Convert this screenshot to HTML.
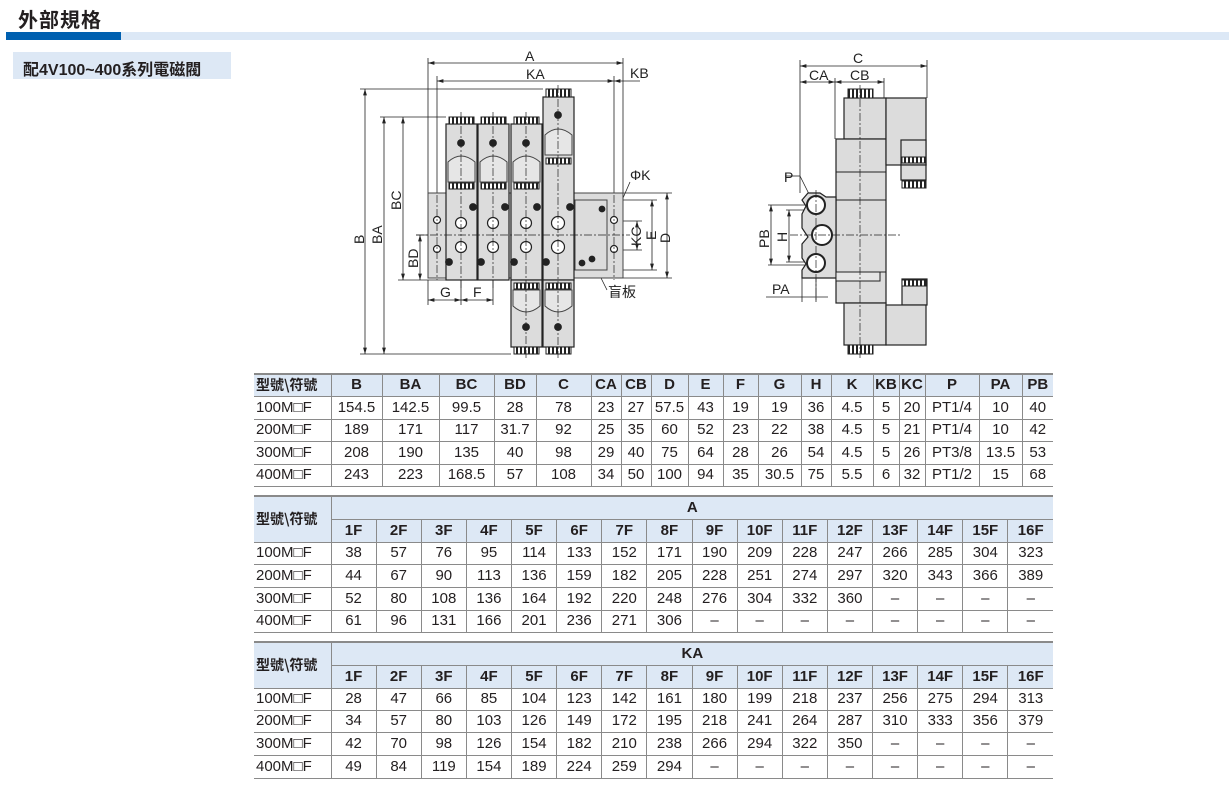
<!DOCTYPE html>
<html><head><meta charset="utf-8">
<style>
*{margin:0;padding:0;box-sizing:border-box}
body{width:1229px;height:790px;background:#fff;position:relative;overflow:hidden;font-family:"Liberation Sans","Noto Sans CJK TC",sans-serif;color:#231f20}
.t1{position:absolute;left:18px;top:4px;font-size:20px;font-weight:bold;font-family:"Noto Sans CJK TC",sans-serif;letter-spacing:1px}
.bar1{position:absolute;left:6px;top:32px;width:115px;height:8px;background:#0060b0}
.bar2{position:absolute;left:121px;top:32px;width:1108px;height:8px;background:#dce8f6}
.sub{position:absolute;left:13px;top:52px;width:218px;height:27px;background:#dde8f5;font-size:16px;font-weight:bold;padding:4px 0 0 10px;font-family:"Liberation Sans","Noto Sans CJK TC",sans-serif}
table{position:absolute;left:254px;border-collapse:collapse;table-layout:fixed;font-size:15px}
td{text-align:center;border-left:1px solid #8a8a8a;border-bottom:1px solid #8a8a8a;padding:0;white-space:nowrap;overflow:hidden;line-height:20px}
td.l{border-left:none;text-align:left;padding-left:2px}
tr.h td{background:#dde8f5;font-weight:bold}
tr.top td{border-top:2px solid #8a8a8a}
.cj{font-family:"Noto Sans CJK TC",sans-serif;font-weight:bold;font-size:14px}
</style></head><body>
<div class="t1">外部規格</div>
<div class="bar1"></div><div class="bar2"></div>
<div class="sub">配4V100~400系列電磁閥</div>

<svg width="1229" height="370" style="position:absolute;left:0;top:0" xmlns="http://www.w3.org/2000/svg" font-family="Liberation Sans, Noto Sans CJK TC, sans-serif" font-size="14">
<defs>
<marker id="ar" viewBox="0 0 10 6" refX="10" refY="3" markerWidth="8" markerHeight="5" orient="auto-start-reverse"><path d="M0,0L10,3L0,6z" fill="#222"/></marker>
<pattern id="cap" width="4" height="8" patternUnits="userSpaceOnUse"><rect width="4" height="8" fill="#fff"/><rect width="2" height="8" fill="#222"/></pattern>
</defs>
<g stroke="#222" stroke-width="0.8" fill="none">
<line x1="428" y1="58" x2="428" y2="193"/><line x1="623" y1="58" x2="623" y2="193"/>
<line x1="437" y1="76" x2="437" y2="193"/><line x1="614" y1="76" x2="614" y2="193"/>
<line x1="360" y1="89" x2="543" y2="89"/><line x1="360" y1="354" x2="511" y2="354"/>
<line x1="380" y1="117" x2="446" y2="117"/><line x1="398" y1="280" x2="446" y2="280"/>
<line x1="416" y1="235" x2="446" y2="235"/>
<line x1="623" y1="193" x2="672" y2="193"/><line x1="623" y1="278" x2="672" y2="278"/>
<line x1="607" y1="200" x2="657" y2="200"/><line x1="607" y1="270" x2="657" y2="270"/>
<line x1="620" y1="221" x2="642" y2="221"/><line x1="620" y1="250" x2="642" y2="250"/>
<line x1="428" y1="280" x2="428" y2="305"/><line x1="461" y1="280" x2="461" y2="305"/><line x1="493" y1="280" x2="493" y2="305"/>
</g>
<g stroke="#222" stroke-width="0.8" marker-start="url(#ar)" marker-end="url(#ar)">
<line x1="428" y1="63" x2="623" y2="63"/>
<line x1="437" y1="81" x2="614" y2="81"/>
<line x1="365" y1="89" x2="365" y2="354"/>
<line x1="384" y1="117" x2="384" y2="354"/>
<line x1="403" y1="117" x2="403" y2="280"/>
<line x1="420" y1="235" x2="420" y2="280"/>
<line x1="428" y1="300" x2="461" y2="300"/>
<line x1="461" y1="300" x2="493" y2="300"/>
<line x1="667" y1="193" x2="667" y2="278"/>
<line x1="652" y1="200" x2="652" y2="270"/>
<line x1="637" y1="221" x2="637" y2="250"/>
</g>
<line x1="640" y1="81" x2="614" y2="81" stroke="#222" stroke-width="0.8" marker-end="url(#ar)"/>
<g fill="#222">
<text x="525" y="61">A</text><text x="526" y="79">KA</text><text x="630" y="78">KB</text>
<text transform="translate(364,244) rotate(-90)">B</text>
<text transform="translate(382,244) rotate(-90)">BA</text>
<text transform="translate(401,210) rotate(-90)">BC</text>
<text transform="translate(418,268) rotate(-90)">BD</text>
<text x="440" y="297">G</text><text x="473" y="297">F</text>
<text transform="translate(670,243) rotate(-90)">D</text>
<text transform="translate(656,240) rotate(-90)">E</text>
<text transform="translate(641,246) rotate(-90)">KC</text>
<text x="630" y="180">ΦK</text>
<text x="608" y="297" font-family="Noto Sans CJK TC,sans-serif">盲板</text>
</g>
<line x1="630" y1="182" x2="616" y2="214" stroke="#222" stroke-width="0.8"/>
<line x1="593" y1="262" x2="607" y2="290" stroke="#222" stroke-width="0.8"/>
<rect x="428" y="193" width="195" height="85" fill="#dcdcdc" stroke="#444" stroke-width="1"/>
<rect x="575" y="200" width="32" height="70" fill="#dcdcdc" stroke="#444"/>
<g stroke="#222" stroke-width="1.2" fill="#dcdcdc">
<rect x="446" y="124" width="31" height="156"/><rect x="478" y="124" width="31" height="156"/><rect x="511" y="124" width="31" height="156"/>
<rect x="543" y="97" width="31" height="183"/>
<rect x="511" y="280" width="31" height="67"/><rect x="543" y="280" width="31" height="67"/>
</g>
<g fill="url(#cap)" stroke="#222">
<rect x="449" y="117" width="25" height="7"/><rect x="481" y="117" width="25" height="7"/><rect x="514" y="117" width="25" height="7"/><rect x="546" y="89" width="25" height="8"/>
<rect x="449" y="183" width="25" height="6"/><rect x="481" y="183" width="25" height="6"/><rect x="514" y="183" width="25" height="6"/><rect x="546" y="158" width="25" height="6"/>
<rect x="514" y="283" width="25" height="6"/><rect x="546" y="283" width="25" height="6"/>
<rect x="514" y="347" width="25" height="7"/><rect x="546" y="347" width="25" height="7"/>
</g>
<g fill="#e6e6e6" stroke="#444" stroke-width="1">
<path d="M448,162 Q461,150 475,162 V182 H448Z"/><path d="M480,162 Q493,150 507,162 V182 H480Z"/><path d="M513,162 Q526,150 540,162 V182 H513Z"/><path d="M545,135 Q558,123 572,135 V155 H545Z"/>
<path d="M513,306 Q526,318 540,306 V290 H513Z"/><path d="M545,306 Q558,318 572,306 V290 H545Z"/>
</g>
<g fill="#222" stroke="#222" stroke-width="0.8">
<circle cx="461" cy="143" r="3.5"/><circle cx="493" cy="143" r="3.5"/><circle cx="526" cy="143" r="3.5"/><circle cx="558" cy="115" r="3.5"/>
<circle cx="526" cy="327" r="3.5"/><circle cx="558" cy="327" r="3.5"/>
<circle cx="473" cy="207" r="3.5"/><circle cx="505" cy="207" r="3.5"/><circle cx="537" cy="207" r="3.5"/><circle cx="570" cy="207" r="3.5"/>
<circle cx="449" cy="262" r="3.5"/><circle cx="481" cy="262" r="3.5"/><circle cx="514" cy="262" r="3.5"/><circle cx="546" cy="262" r="3.5"/>
<circle cx="582" cy="263" r="3"/><circle cx="592" cy="259" r="3"/><circle cx="602" cy="209" r="3"/>
</g>
<g fill="#fff" stroke="#222" stroke-width="1.2">
<circle cx="437" cy="220" r="3.5"/><circle cx="437" cy="249" r="3.5"/><circle cx="614" cy="220" r="3.5"/><circle cx="614" cy="249" r="3.5"/>
<circle cx="461" cy="223" r="5.5"/><circle cx="493" cy="223" r="5.5"/><circle cx="526" cy="223" r="5.5"/><circle cx="558" cy="223" r="6.5"/>
<circle cx="461" cy="247" r="5.5"/><circle cx="493" cy="247" r="5.5"/><circle cx="526" cy="247" r="5.5"/><circle cx="558" cy="247" r="6.5"/>
</g>
<g stroke="#222" stroke-width="0.7" stroke-dasharray="8,2,2,2" fill="none">
<line x1="416" y1="235" x2="630" y2="235"/>
<line x1="461" y1="112" x2="461" y2="290"/><line x1="493" y1="112" x2="493" y2="290"/><line x1="526" y1="112" x2="526" y2="358"/><line x1="558" y1="85" x2="558" y2="358"/>
<line x1="437" y1="195" x2="437" y2="280"/><line x1="614" y1="195" x2="614" y2="280"/>
</g>

<g stroke="#222" stroke-width="0.8" fill="none">
<line x1="800" y1="60" x2="800" y2="193"/><line x1="927" y1="60" x2="927" y2="98"/>
<line x1="835" y1="78" x2="835" y2="139"/><line x1="884" y1="78" x2="884" y2="98"/>
<line x1="768" y1="205" x2="816" y2="205"/><line x1="768" y1="265" x2="816" y2="265"/>
<line x1="786" y1="210" x2="822" y2="210"/><line x1="786" y1="262" x2="822" y2="262"/>
<line x1="802" y1="278" x2="802" y2="302"/><line x1="816" y1="278" x2="816" y2="302"/>
<line x1="766" y1="297" x2="828" y2="297"/>
<line x1="785" y1="176" x2="800" y2="176"/><line x1="800" y1="176" x2="810" y2="196"/>
</g>
<g stroke="#222" stroke-width="0.8" marker-start="url(#ar)" marker-end="url(#ar)">
<line x1="800" y1="66" x2="927" y2="66"/>
<line x1="800" y1="82" x2="835" y2="82"/>
<line x1="835" y1="82" x2="884" y2="82"/>
<line x1="771" y1="205" x2="771" y2="265"/>
<line x1="789" y1="210" x2="789" y2="262"/>
</g>
<g fill="#222"><text x="853" y="63">C</text><text x="809" y="80">CA</text><text x="850" y="80">CB</text>
<text x="784" y="182">P</text><text x="772" y="294">PA</text>
<text transform="translate(769,248) rotate(-90)">PB</text>
<text transform="translate(787,242) rotate(-90)">H</text></g>
<g stroke="#222" stroke-width="1.2" fill="#dcdcdc">
<rect x="844" y="98" width="42" height="41"/>
<rect x="836" y="139" width="50" height="164"/>
<rect x="844" y="303" width="42" height="42"/>
<rect x="886" y="98" width="40" height="67"/>
<rect x="901" y="140" width="25" height="25"/>
<rect x="901" y="165" width="25" height="15"/>
<rect x="902" y="279" width="25" height="26"/>
<rect x="886" y="305" width="40" height="40"/>
<path d="M802,200 L808,193 L820,193 L826,197 L836,197 V278 L802,278 V270 L806,264 L802,258 V244 L808,237 L802,228 V214 L806,206 Z"/>
</g>
<g fill="url(#cap)" stroke="#222">
<rect x="848" y="89" width="25" height="9"/><rect x="848" y="345" width="25" height="9"/>
<rect x="902" y="157" width="24" height="6"/><rect x="902" y="181" width="24" height="7"/><rect x="902" y="280" width="24" height="6"/>
</g>
<g stroke="#222" stroke-width="1" fill="none">
<line x1="836" y1="172" x2="886" y2="172"/><line x1="836" y1="200" x2="886" y2="200"/><line x1="836" y1="272" x2="886" y2="272"/>
<rect x="836" y="272" width="44" height="9" fill="#e6e6e6"/>
</g>
<g fill="#fff" stroke="#222" stroke-width="2">
<circle cx="816" cy="205" r="9"/><circle cx="822" cy="235" r="10"/><circle cx="816" cy="263" r="9"/>
</g>
<g stroke="#222" stroke-width="0.7" stroke-dasharray="8,2,2,2" fill="none">
<line x1="860" y1="85" x2="860" y2="358"/><line x1="790" y1="235" x2="900" y2="235"/>
<line x1="816" y1="190" x2="816" y2="300"/>
</g>
</svg>

<table style="top:373px;width:799px">
<colgroup><col style="width:77px"><col style="width:51px"><col style="width:57px"><col style="width:55px"><col style="width:42px"><col style="width:55px"><col style="width:30px"><col style="width:30px"><col style="width:37px"><col style="width:35px"><col style="width:35px"><col style="width:43px"><col style="width:30px"><col style="width:42px"><col style="width:26px"><col style="width:26px"><col style="width:54px"><col style="width:43px"><col style="width:31px"></colgroup>
<tr class="h top" style="height:22px"><td class="l cj">型號\符號</td><td>B</td><td>BA</td><td>BC</td><td>BD</td><td>C</td><td>CA</td><td>CB</td><td>D</td><td>E</td><td>F</td><td>G</td><td>H</td><td>K</td><td>KB</td><td>KC</td><td>P</td><td>PA</td><td>PB</td></tr>
<tr style="height:23px"><td class="l">100M□F</td><td>154.5</td><td>142.5</td><td>99.5</td><td>28</td><td>78</td><td>23</td><td>27</td><td>57.5</td><td>43</td><td>19</td><td>19</td><td>36</td><td>4.5</td><td>5</td><td>20</td><td>PT1/4</td><td>10</td><td>40</td></tr>
<tr style="height:22px"><td class="l">200M□F</td><td>189</td><td>171</td><td>117</td><td>31.7</td><td>92</td><td>25</td><td>35</td><td>60</td><td>52</td><td>23</td><td>22</td><td>38</td><td>4.5</td><td>5</td><td>21</td><td>PT1/4</td><td>10</td><td>42</td></tr>
<tr style="height:23px"><td class="l">300M□F</td><td>208</td><td>190</td><td>135</td><td>40</td><td>98</td><td>29</td><td>40</td><td>75</td><td>64</td><td>28</td><td>26</td><td>54</td><td>4.5</td><td>5</td><td>26</td><td>PT3/8</td><td>13.5</td><td>53</td></tr>
<tr style="height:22px"><td class="l">400M□F</td><td>243</td><td>223</td><td>168.5</td><td>57</td><td>108</td><td>34</td><td>50</td><td>100</td><td>94</td><td>35</td><td>30.5</td><td>75</td><td>5.5</td><td>6</td><td>32</td><td>PT1/2</td><td>15</td><td>68</td></tr>
</table>

<table style="top:495px;width:799px">
<colgroup><col style="width:77px"><col span="16" style="width:45.125px"></colgroup>
<tr class="h top" style="height:23px"><td class="l cj" rowspan="2">型號\符號</td><td colspan="16">A</td></tr>
<tr class="h" style="height:23px"><td>1F</td><td>2F</td><td>3F</td><td>4F</td><td>5F</td><td>6F</td><td>7F</td><td>8F</td><td>9F</td><td>10F</td><td>11F</td><td>12F</td><td>13F</td><td>14F</td><td>15F</td><td>16F</td></tr>
<tr style="height:22px"><td class="l">100M□F</td><td>38</td><td>57</td><td>76</td><td>95</td><td>114</td><td>133</td><td>152</td><td>171</td><td>190</td><td>209</td><td>228</td><td>247</td><td>266</td><td>285</td><td>304</td><td>323</td></tr>
<tr style="height:23px"><td class="l">200M□F</td><td>44</td><td>67</td><td>90</td><td>113</td><td>136</td><td>159</td><td>182</td><td>205</td><td>228</td><td>251</td><td>274</td><td>297</td><td>320</td><td>343</td><td>366</td><td>389</td></tr>
<tr style="height:23px"><td class="l">300M□F</td><td>52</td><td>80</td><td>108</td><td>136</td><td>164</td><td>192</td><td>220</td><td>248</td><td>276</td><td>304</td><td>332</td><td>360</td><td>–</td><td>–</td><td>–</td><td>–</td></tr>
<tr style="height:22px"><td class="l">400M□F</td><td>61</td><td>96</td><td>131</td><td>166</td><td>201</td><td>236</td><td>271</td><td>306</td><td>–</td><td>–</td><td>–</td><td>–</td><td>–</td><td>–</td><td>–</td><td>–</td></tr>
</table>

<table style="top:641px;width:799px">
<colgroup><col style="width:77px"><col span="16" style="width:45.125px"></colgroup>
<tr class="h top" style="height:23px"><td class="l cj" rowspan="2">型號\符號</td><td colspan="16">KA</td></tr>
<tr class="h" style="height:23px"><td>1F</td><td>2F</td><td>3F</td><td>4F</td><td>5F</td><td>6F</td><td>7F</td><td>8F</td><td>9F</td><td>10F</td><td>11F</td><td>12F</td><td>13F</td><td>14F</td><td>15F</td><td>16F</td></tr>
<tr style="height:22px"><td class="l">100M□F</td><td>28</td><td>47</td><td>66</td><td>85</td><td>104</td><td>123</td><td>142</td><td>161</td><td>180</td><td>199</td><td>218</td><td>237</td><td>256</td><td>275</td><td>294</td><td>313</td></tr>
<tr style="height:22px"><td class="l">200M□F</td><td>34</td><td>57</td><td>80</td><td>103</td><td>126</td><td>149</td><td>172</td><td>195</td><td>218</td><td>241</td><td>264</td><td>287</td><td>310</td><td>333</td><td>356</td><td>379</td></tr>
<tr style="height:23px"><td class="l">300M□F</td><td>42</td><td>70</td><td>98</td><td>126</td><td>154</td><td>182</td><td>210</td><td>238</td><td>266</td><td>294</td><td>322</td><td>350</td><td>–</td><td>–</td><td>–</td><td>–</td></tr>
<tr style="height:23px"><td class="l">400M□F</td><td>49</td><td>84</td><td>119</td><td>154</td><td>189</td><td>224</td><td>259</td><td>294</td><td>–</td><td>–</td><td>–</td><td>–</td><td>–</td><td>–</td><td>–</td><td>–</td></tr>
</table>
</body></html>
